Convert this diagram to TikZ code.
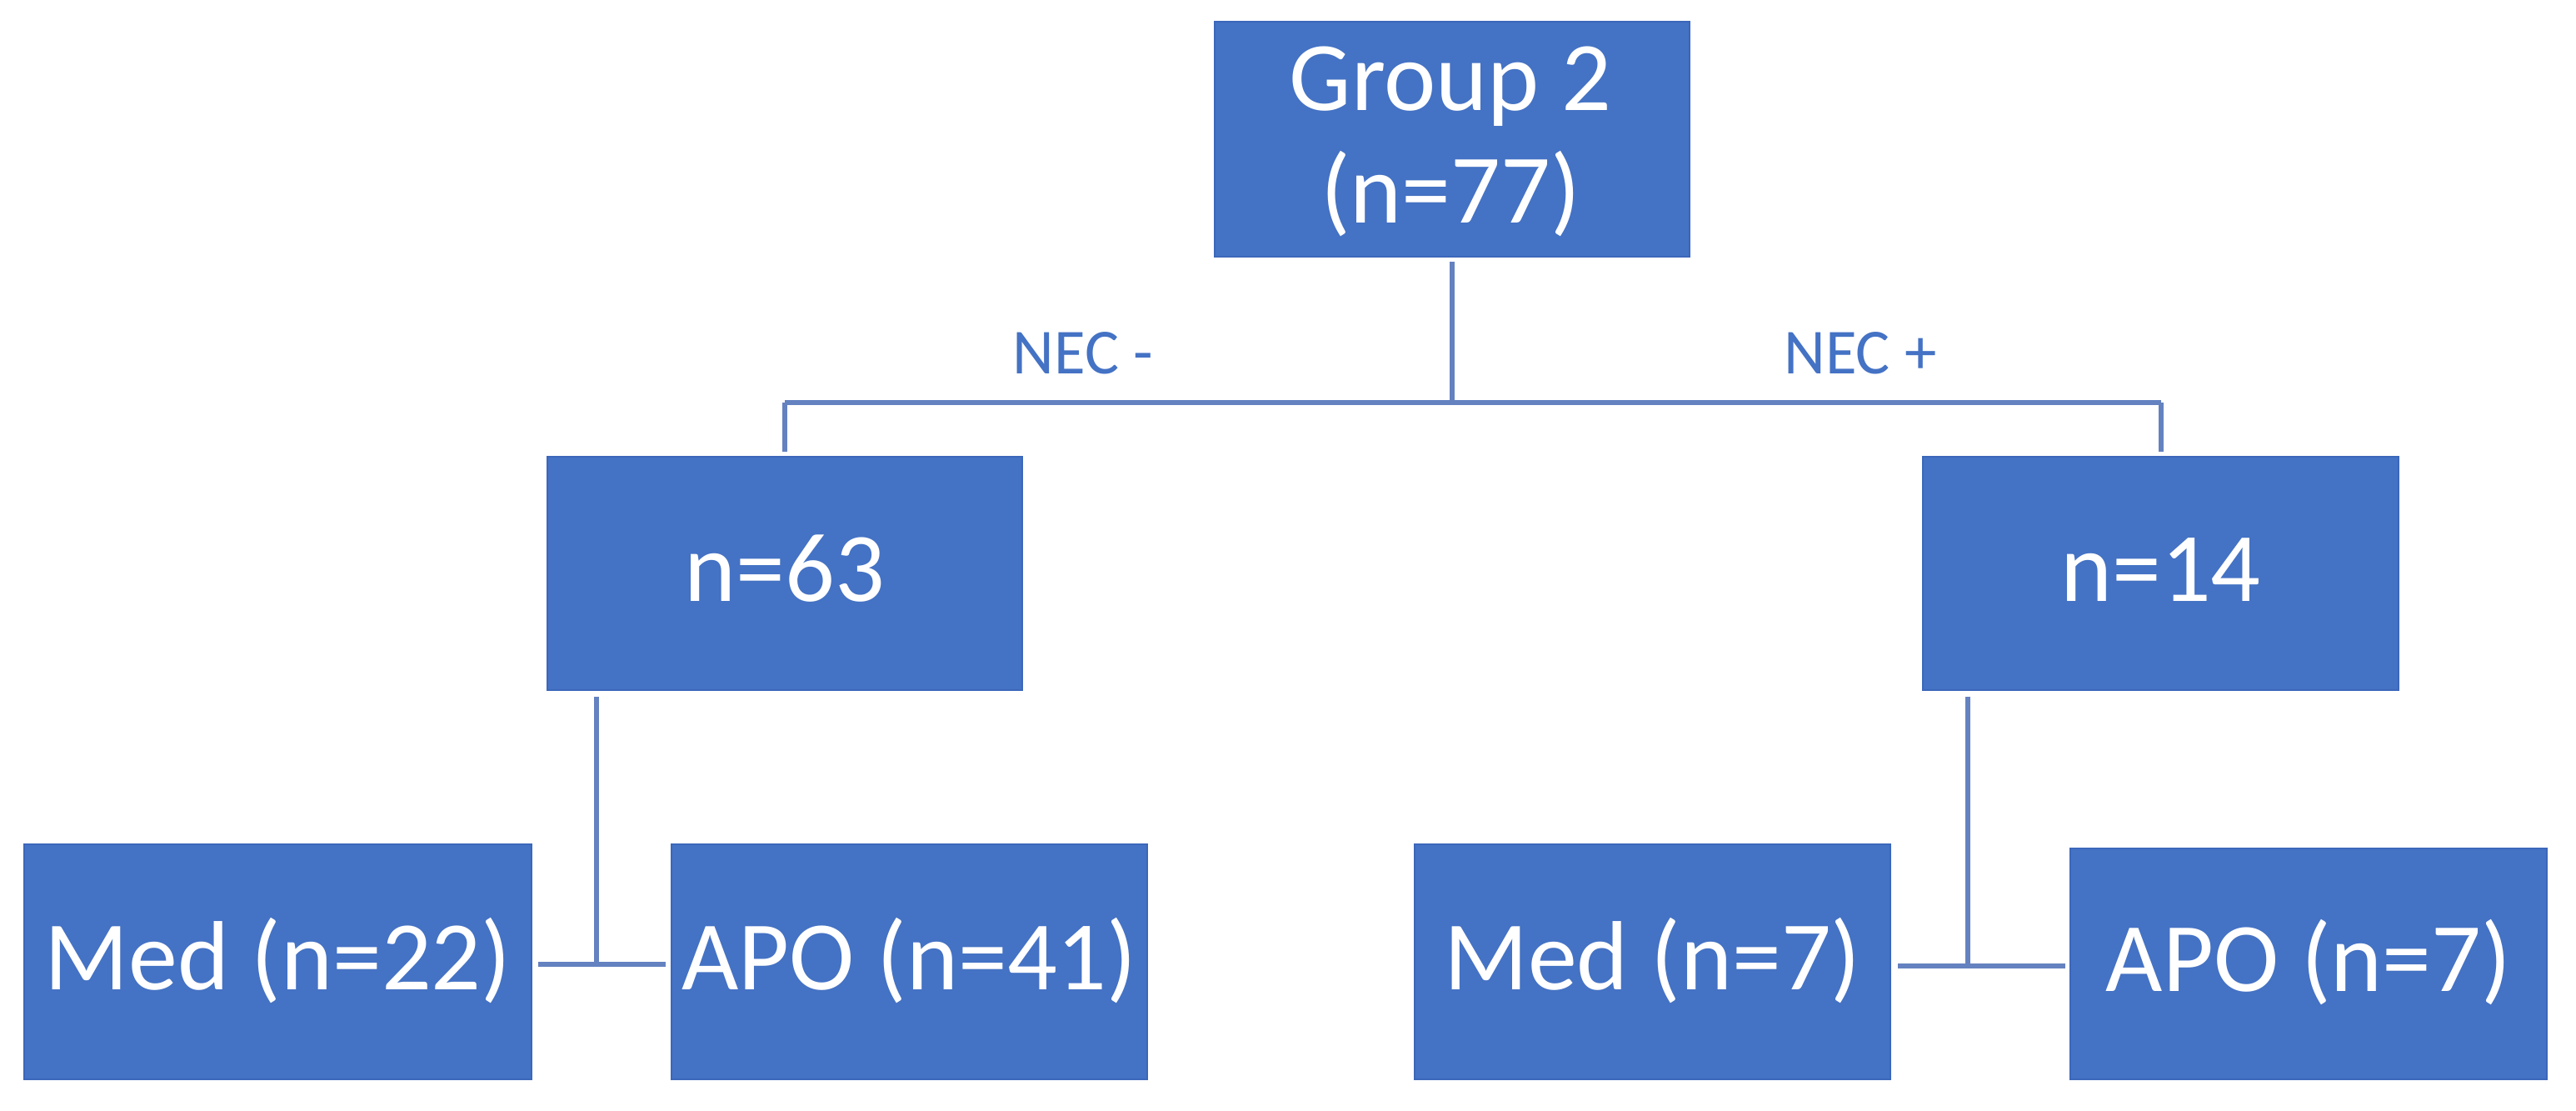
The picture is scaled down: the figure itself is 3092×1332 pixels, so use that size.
\documentclass[tikz,border=0pt]{standalone}
\usepackage{fontspec}
\setmainfont{Carlito}
\definecolor{boxblue}{HTML}{4472C4}
\definecolor{boxedge}{HTML}{3C67BA}
\definecolor{linkblue}{HTML}{6482C0}
\definecolor{labblue}{HTML}{4472C4}
\begin{document}
\begin{tikzpicture}[x=0.25pt,y=-0.25pt,
  box/.style={draw=boxedge, line width=0.6pt, fill=boxblue, text=white,
    inner sep=0pt, font=\fontsize{29.5}{33.75}\selectfont,
    text height=19pt, text depth=2.5pt, anchor=center},
  gtext/.style={text=white, font=\fontsize{29.5}{33.75}\selectfont,
    anchor=base, inner sep=0pt},
  conn/.style={draw=linkblue, line width=1.5pt},
  neclabel/.style={text=labblue, font=\fontsize{19.25}{22}\selectfont,
    anchor=base, inner sep=0pt}]
\useasboundingbox (0,0) rectangle (3092,1332);

% boxes
\node[box, minimum width=142.5pt, minimum height=70.5pt] (g) at (1743,167) {};
\node[gtext] (g1) at (1741,132) {Group 2};
\node[gtext] (g2) at (1741,267) {(n=77)};

\node[box, minimum width=142.5pt, minimum height=70pt] (n63) at (942,688) {n=63};
\node[box, minimum width=142.75pt, minimum height=70pt] (n14) at (2593.5,688) {n=14};

\node[box, minimum width=152.25pt, minimum height=70.5pt] (med22) at (333.5,1154) {Med (n=22)};
\node[box, minimum width=142.75pt, minimum height=70.5pt] (apo41) at (1091.5,1154) {APO (n=41)};
\node[box, minimum width=142.75pt, minimum height=70.5pt] (med7) at (1983.5,1154) {Med (n=7)};
\node[box, minimum width=143pt, minimum height=69.25pt] (apo7) at (2771,1156.5) {APO (n=7)};

% junction points
\coordinate (jl) at (942,483);
\coordinate (jr) at (2593.5,483);
\coordinate (ml) at (716,1157);
\coordinate (mr) at (2362,1159);

% top connectors
\draw[conn, shorten <=1.2pt] (g.south) -- (g.south |- jl);
\draw[conn] (jl) -- (jr);
\draw[conn, shorten >=1.2pt] (jl) -- (n63.north);
\draw[conn, shorten >=1.2pt] (jr) -- (n14.north);

% lower connectors
\draw[conn, shorten <=1.6pt] (n63.south -| ml) -- (ml);
\draw[conn, shorten <=1.6pt, shorten >=1.5pt] (med22.east |- ml) -- (apo41.west |- ml);
\draw[conn, shorten <=1.6pt] (n14.south -| mr) -- (mr);
\draw[conn, shorten <=2pt, shorten >=1.2pt] (med7.east |- mr) -- (apo7.west |- mr);

% labels
\node[neclabel] (necm) at (1300,448) {NEC -};
\node[neclabel] (necp) at (2233,448) {NEC +};
\end{tikzpicture}
\end{document}
